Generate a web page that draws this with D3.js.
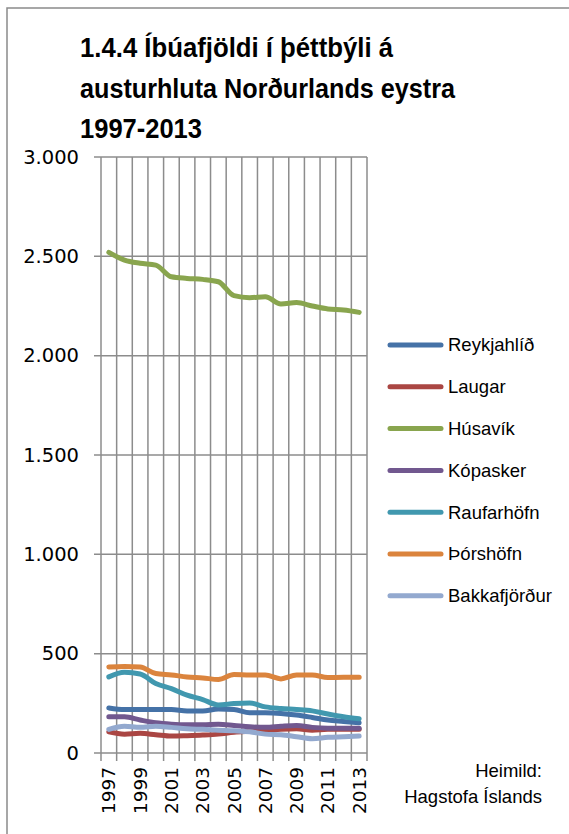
<!DOCTYPE html>
<html>
<head>
<meta charset="utf-8">
<script src="https://cdn.jsdelivr.net/npm/d3@7"></script>
<style>
  body { margin: 0; background: #fff; }
  text { fill: #000; }
</style>
</head>
<body>
<div id="vis"></div>
<script>
var width = 569,
    height = 834;

var years = d3.range(1997, 2014);
var yTicks = [0, 500, 1000, 1500, 2000, 2500, 3000];
var xTickLabels = [1997, 1999, 2001, 2003, 2005, 2007, 2009, 2011, 2013];

var titleLines = ["1.4.4 Íbúafjöldi í þéttbýli á", "austurhluta Norðurlands eystra", "1997-2013"];
var sourceLines = ["Heimild:", "Hagstofa Íslands"];

var names = ["Reykjahlíð", "Laugar", "Húsavík", "Kópasker", "Raufarhöfn", "Þórshöfn", "Bakkafjörður"];
var colors = ["#4572A7", "#AA4643", "#89A54E", "#71588F", "#4198AF", "#DB843D", "#93A9CF"];

var reykjahlid = [227, 219, 219, 219, 219, 212, 212, 221, 219, 202, 202, 199, 191, 179, 166, 159, 152];
var laugar     = [107, 95, 99, 92, 85, 87, 90, 95, 105, 109, 112, 119, 122, 115, 119, 119, 119];
var husavik    = [2520, 2481, 2465, 2456, 2397, 2389, 2384, 2372, 2302, 2292, 2297, 2260, 2267, 2250, 2235, 2230, 2218];
var kopasker   = [182, 182, 166, 152, 145, 142, 142, 145, 139, 132, 129, 135, 139, 129, 125, 125, 125];
var raufarhofn = [383, 406, 398, 350, 324, 291, 269, 242, 249, 252, 232, 224, 219, 212, 196, 182, 172];
var thorshofn  = [433, 436, 433, 400, 393, 383, 378, 370, 395, 393, 393, 373, 393, 393, 380, 381, 381];
var bakkafj    = [119, 135, 129, 135, 129, 122, 119, 115, 112, 107, 95, 92, 82, 72, 79, 82, 85];

var series = [reykjahlid, laugar, husavik, kopasker, raufarhofn, thorshofn, bakkafj].map(function(v, i) {
    return { name: names[i], color: colors[i], values: v };
});

var svg = d3.select("#vis").append("svg")
    .attr("width", width)
    .attr("height", height);

// chart frame
svg.append("rect")
    .attr("x", 7).attr("y", 8)
    .attr("width", 600).attr("height", 900)
    .attr("fill", "#fff")
    .attr("stroke", "#8a8a8a")
    .attr("stroke-width", 1.5);

var plotLeft = 101, plotRight = 367, plotTop = 157, plotBottom = 753;

var x = d3.scaleBand()
    .domain(years)
    .range([plotLeft, plotRight]);

var y = d3.scaleLinear()
    .domain([0, 3000])
    .range([plotBottom, plotTop]);

var fmt = d3.formatLocale({ decimal: ",", thousands: ".", grouping: [3], currency: ["", ""] }).format(",");

var grid = svg.append("g")
    .attr("stroke", "#8c8c8c")
    .attr("stroke-width", 1.5);

// horizontal gridlines (with outside ticks)
grid.selectAll("line.h")
    .data(yTicks)
    .enter().append("line")
    .attr("class", "h")
    .attr("x1", plotLeft - 7).attr("x2", plotRight)
    .attr("y1", function(d) { return y(d); })
    .attr("y2", function(d) { return y(d); });

// vertical gridlines at category boundaries
var bounds = years.map(function(d) { return x(d); }).concat([plotRight]);
grid.selectAll("line.v")
    .data(bounds)
    .enter().append("line")
    .attr("class", "v")
    .attr("x1", function(d) { return d; })
    .attr("x2", function(d) { return d; })
    .attr("y1", plotTop)
    .attr("y2", plotBottom + 8);

// y labels
svg.append("g").selectAll("text")
    .data(yTicks)
    .enter().append("text")
    .attr("x", 79)
    .attr("y", function(d) { return y(d); })
    .attr("dy", "0.35em")
    .attr("text-anchor", "end")
    .style("font-family", "DejaVu Sans")
    .style("font-size", "19.5px")
    .text(function(d) { return fmt(d); });

// x labels
svg.append("g").selectAll("text")
    .data(xTickLabels)
    .enter().append("text")
    .attr("transform", function(d) {
        return "translate(" + (x(d) + x.bandwidth() / 2 + 6.5) + "," + 767 + ")rotate(-90)";
    })
    .attr("text-anchor", "end")
    .style("font-family", "DejaVu Sans")
    .style("font-size", "18.5px")
    .text(function(d) { return d; });

var line = d3.line()
    .x(function(d, i) { return x(years[i]) + x.bandwidth() / 2; })
    .y(function(d) { return y(d); })
    .curve(d3.curveMonotoneX);

svg.append("g").selectAll("path")
    .data(series)
    .enter().append("path")
    .attr("fill", "none")
    .attr("stroke", function(d) { return d.color; })
    .attr("stroke-width", 5)
    .attr("stroke-linejoin", "round")
    .attr("stroke-linecap", "round")
    .attr("d", function(d) { return line(d.values); });

// legend
var legend = svg.append("g").selectAll("g")
    .data(series)
    .enter().append("g")
    .attr("transform", function(d, i) { return "translate(388," + (345 + i * 41.8) + ")"; });

legend.append("line")
    .attr("x1", 2).attr("x2", 53)
    .attr("stroke", function(d) { return d.color; })
    .attr("stroke-width", 5)
    .attr("stroke-linecap", "round");

legend.append("text")
    .attr("x", 60)
    .attr("dy", "0.35em")
    .style("font-family", "Liberation Sans")
    .style("font-size", "18.5px")
    .text(function(d) { return d.name; });

// title
var titleWidths = [313, 375, 122];
svg.append("g").selectAll("text")
    .data(titleLines)
    .enter().append("text")
    .attr("x", 80)
    .attr("y", function(d, i) { return 57 + i * 40.5; })
    .attr("textLength", function(d, i) { return titleWidths[i]; })
    .attr("lengthAdjust", "spacingAndGlyphs")
    .style("font-family", "Liberation Sans")
    .style("font-weight", "bold")
    .style("font-size", "28px")
    .text(function(d) { return d; });

// source
svg.append("g").selectAll("text")
    .data(sourceLines)
    .enter().append("text")
    .attr("x", 542)
    .attr("y", function(d, i) { return 777 + i * 26; })
    .attr("text-anchor", "end")
    .style("font-family", "Liberation Sans")
    .style("font-size", "18.5px")
    .text(function(d) { return d; });
</script>
</body>
</html>
